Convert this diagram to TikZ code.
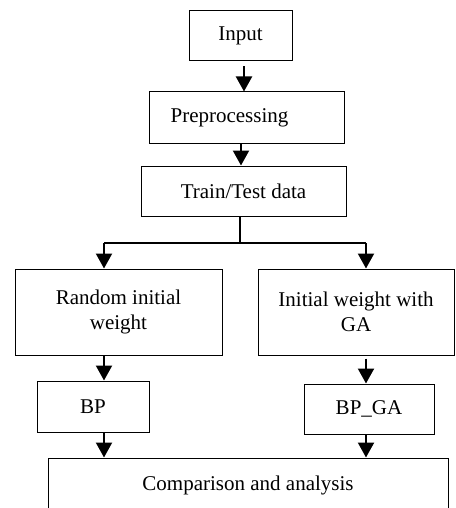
\documentclass[tikz,border=0pt]{standalone}
\usepackage{fontspec}
\setmainfont{Liberation Serif}
\usetikzlibrary{arrows.meta}
\begin{document}
\begin{tikzpicture}[x=1pt,y=-1pt,
  box/.style={draw,line width=1pt,inner sep=0pt,align=center,font=\fontsize{21}{25}\selectfont},
  arr/.style={line width=2.2pt,-{Triangle[width=16pt,length=15pt]}},
  thin/.style={line width=1.1pt}]
\useasboundingbox (0,0) rectangle (455,508);
\node[box,minimum width=103pt,minimum height=50pt] (Input) at (240.5,36) {Input};
\node[box,minimum width=195pt,minimum height=51pt] (Pre) at (246.5,117.5) {Preprocessing\hspace*{34pt}};
\node[box,minimum width=205pt,minimum height=50pt] (Train) at (243.5,191) {Train/Test data};
\node[box,minimum width=207pt,minimum height=86pt] (Random) at (118.5,312) {Random initial\\weight};
\node[box,minimum width=196pt,minimum height=86pt] (InitGA) at (356,312) {Initial weight with\\GA};
\node[box,minimum width=112pt,minimum height=51pt] (BP) at (93,406.5) {BP};
\node[box,minimum width=130pt,minimum height=50pt] (BPGA) at (369,409) {BP\_GA};
\node[box,minimum width=400pt,minimum height=54pt] (Comp) at (248,485) {Comparison and analysis};
\coordinate (split) at (240,243);
\coordinate (sl) at (104,243);
\coordinate (sr) at (366,243);
\draw[arr] ([xshift=3.5pt,yshift=-5pt]Input.south) -- ([xshift=3.5pt]Input.south |- Pre.north);
\draw[arr] ([xshift=-5.5pt]Pre.south) -- ([xshift=-5.5pt]Pre.south |- Train.north);
\draw[thin] (Train.south -| split) -- (split);
\draw[thin] (sl) -- (sr);
\draw[arr] (sl) -- (sl |- Random.north);
\draw[arr] (sr) -- (sr |- InitGA.north);
\draw[arr] (Random.south -| sl) -- (sl |- BP.north);
\draw[arr] ([yshift=-3pt]InitGA.south -| sr) -- (sr |- BPGA.north);
\draw[arr] (BP.south -| sl) -- (sl |- Comp.north);
\draw[arr] (BPGA.south -| sr) -- (sr |- Comp.north);
\end{tikzpicture}
\end{document}
